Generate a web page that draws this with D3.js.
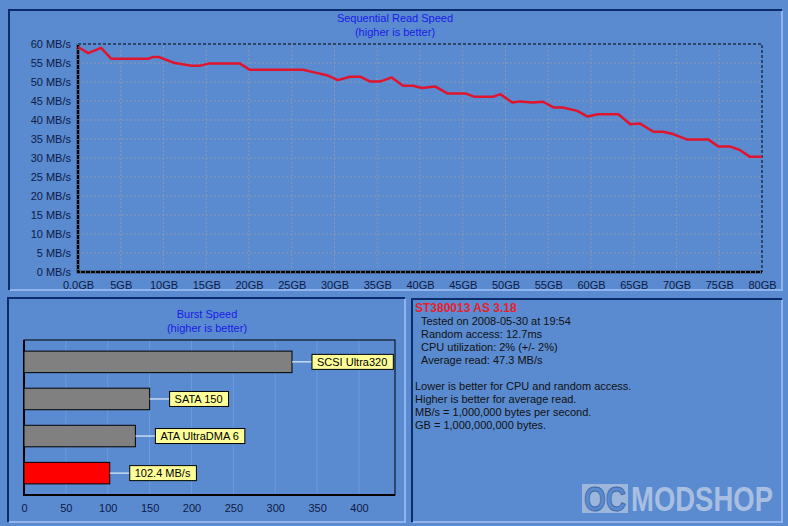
<!DOCTYPE html>
<html>
<head>
<meta charset="utf-8">
<script src="https://cdn.jsdelivr.net/npm/d3@7"></script>
<style>
  body { margin: 0; background: #5a8bd0; }
  svg { display: block; }
  text { font-family: "Liberation Sans", Arial, sans-serif; }
</style>
</head>
<body>
<svg id="chart" width="788" height="526"></svg>
<script>
// Sequential read: position (GB) and speed (MB/s)
var readGB    = [0, 1.2, 2.7, 3.9, 8.2, 8.8, 9.4, 11.3, 13.3, 14.3, 15.4, 18.9, 20.1, 26.3, 27.5, 29.1, 30.4, 31.8, 33.0, 34.2, 35.3, 36.7, 38.0, 39.2, 40.2, 41.8, 43.2, 45.3, 46.4, 48.5, 49.4, 50.8, 51.7, 53.2, 54.4, 55.6, 56.7, 58.4, 59.6, 60.8, 63.2, 64.6, 65.7, 67.3, 68.4, 69.6, 71.2, 73.7, 74.9, 76.3, 77.4, 78.6, 80];
var readSpeed = [59.2, 57.6, 59.0, 56.1, 56.1, 56.6, 56.6, 55.0, 54.3, 54.3, 54.9, 54.9, 53.2, 53.2, 52.6, 51.8, 50.5, 51.4, 51.4, 50.1, 50.1, 51.2, 49.0, 49.0, 48.4, 48.8, 47.0, 47.0, 46.1, 46.1, 46.8, 44.6, 44.9, 44.6, 44.8, 43.3, 43.3, 42.4, 40.9, 41.5, 41.5, 38.9, 39.1, 36.9, 36.9, 36.3, 34.9, 34.9, 33.0, 33.0, 32.1, 30.3, 30.3];
var readYTicks = [0, 5, 10, 15, 20, 25, 30, 35, 40, 45, 50, 55, 60];
var readXTicks = [0, 5, 10, 15, 20, 25, 30, 35, 40, 45, 50, 55, 60, 65, 70, 75, 80];

// Burst speed bars
var burstNames  = ["SCSI Ultra320", "SATA 150", "ATA UltraDMA 6", "102.4 MB/s"];
var burstValues = [320, 150, 133, 102.4];
var burstColors = ["#808080", "#808080", "#808080", "#ff0000"];
var burstTicks  = [0, 50, 100, 150, 200, 250, 300, 350, 400];

// Info panel lines
var infoTitle = "ST380013 AS 3.18";
var infoLines = ["Tested on 2008-05-30 at 19:54", "Random access: 12.7ms", "CPU utilization: 2% (+/- 2%)", "Average read: 47.3 MB/s"];
var noteLines = ["Lower is better for CPU and random access.", "Higher is better for average read.", "MB/s = 1,000,000 bytes per second.", "GB = 1,000,000,000 bytes."];

var svg = d3.select("#chart");
var axisColor = "#0e1a46";
var titleColor = "#1a1ae6";
var font = "Liberation Sans, Arial, sans-serif";

//Draw a sunken panel frame
function drawPanel(x0, y0, x1, y1) {
    svg.append("path").attr("d", "M" + x0 + "," + y1 + "V" + y0 + "H" + x1)
        .attr("fill", "none").attr("stroke", "#0d2c6c").attr("stroke-width", 2);
    svg.append("path").attr("d", "M" + (x0 + 1) + "," + y1 + "H" + x1 + "V" + (y0 + 1))
        .attr("fill", "none").attr("stroke", "#8fb3ec").attr("stroke-width", 2);
}

drawPanel(9, 10, 782, 290);
drawPanel(8, 298, 405, 522);
drawPanel(412, 299, 782, 522);

//---------------- Sequential read chart
var x = d3.scaleLinear().domain([0, 80]).range([78, 762]);
var y = d3.scaleLinear().domain([0, 60]).range([272, 44]);

var seq = svg.append("g");

seq.append("text").attr("x", 395).attr("y", 22).attr("text-anchor", "middle")
    .attr("fill", titleColor).style("font-size", "11px").text("Sequential Read Speed");
seq.append("text").attr("x", 395).attr("y", 36).attr("text-anchor", "middle")
    .attr("fill", titleColor).style("font-size", "11px").text("(higher is better)");

seq.selectAll("line.gy").data(readYTicks.slice(1, -1)).enter().append("line")
    .attr("x1", x(0)).attr("x2", x(80)).attr("y1", function(d) { return y(d); }).attr("y2", function(d) { return y(d); })
    .attr("stroke", "#8a98b0").attr("stroke-dasharray", "2,2");
seq.selectAll("line.gx").data(readXTicks.slice(1, -1)).enter().append("line")
    .attr("y1", y(0)).attr("y2", y(60)).attr("x1", function(d) { return x(d); }).attr("x2", function(d) { return x(d); })
    .attr("stroke", "#8a98b0").attr("stroke-dasharray", "2,2");

// frame: dashed top/right, heavy left/bottom
seq.append("path").attr("d", "M" + x(0) + "," + y(60) + "H" + x(80) + "V" + y(0))
    .attr("fill", "none").attr("stroke", "#000").attr("stroke-dasharray", "3,2");
seq.append("path").attr("d", "M" + x(0) + "," + y(60) + "V" + y(0) + "H" + x(80))
    .attr("fill", "none").attr("stroke", "#000").attr("stroke-width", 2.5);
seq.append("path").attr("d", "M" + x(0) + "," + y(60) + "V" + y(0) + "H" + x(80))
    .attr("fill", "none").attr("stroke", "#c8d4e8").attr("stroke-width", 1).attr("stroke-dasharray", "1,4");

var yAxis = d3.axisLeft(y).tickValues(readYTicks).tickSize(0).tickPadding(7)
    .tickFormat(function(d) { return d + " MB/s"; });
var yg = seq.append("g").attr("transform", "translate(" + x(0) + ",0)").call(yAxis);
yg.select(".domain").remove();
yg.selectAll("text").attr("fill", axisColor).style("font-size", "11px").style("font-family", font);

var xAxis = d3.axisBottom(x).tickValues(readXTicks).tickSize(0).tickPadding(9)
    .tickFormat(function(d) { return d === 0 ? "0.0GB" : d + "GB"; });
var xg = seq.append("g").attr("transform", "translate(0," + y(0) + ")").call(xAxis);
xg.select(".domain").remove();
xg.selectAll("text").attr("fill", axisColor).style("font-size", "11px").style("font-family", font);

var line = d3.line().x(function(d, i) { return x(readGB[i]); }).y(function(d) { return y(d); });
seq.append("path").datum(readSpeed).attr("d", line)
    .attr("fill", "none").attr("stroke", "#e0142c").attr("stroke-width", 2.5).attr("stroke-linejoin", "round");

//---------------- Burst speed chart
var bx = d3.scaleLinear().domain([0, 443]).range([24, 395]);
var by = d3.scaleBand().domain(burstNames).range([340, 495]).paddingInner(0.42).paddingOuter(0.3);

var burst = svg.append("g");

burst.append("text").attr("x", 207).attr("y", 318).attr("text-anchor", "middle")
    .attr("fill", titleColor).style("font-size", "11px").text("Burst Speed");
burst.append("text").attr("x", 207).attr("y", 332).attr("text-anchor", "middle")
    .attr("fill", titleColor).style("font-size", "11px").text("(higher is better)");

burst.selectAll("line.bg").data(burstTicks.slice(1)).enter().append("line")
    .attr("x1", function(d) { return bx(d); }).attr("x2", function(d) { return bx(d); })
    .attr("y1", 340).attr("y2", 495).attr("stroke", "#6f9ad8").attr("stroke-width", 1);

burst.append("rect").attr("x", bx(0)).attr("y", 340).attr("width", bx(443) - bx(0)).attr("height", 155)
    .attr("fill", "none").attr("stroke", "#000").attr("stroke-width", 1);
burst.append("path").attr("d", "M" + bx(0) + ",340V495H" + bx(443))
    .attr("fill", "none").attr("stroke", "#000").attr("stroke-width", 2);

burst.selectAll("rect.bar").data(burstValues).enter().append("rect")
    .attr("x", bx(0)).attr("y", function(d, i) { return by(burstNames[i]); })
    .attr("width", function(d) { return bx(d) - bx(0); }).attr("height", by.bandwidth())
    .attr("fill", function(d, i) { return burstColors[i]; }).attr("stroke", "#000").attr("stroke-width", 1);

burstValues.forEach(function(d, i) {
    var cy = by(burstNames[i]) + by.bandwidth() / 2;
    var lx = bx(d) + 20;
    burst.append("line").attr("x1", bx(d)).attr("x2", lx).attr("y1", cy).attr("y2", cy)
        .attr("stroke", "#fff").attr("stroke-width", 1);
    var box = burst.append("rect").attr("x", lx).attr("y", cy - 7.5).attr("height", 15)
        .attr("fill", "#ffff99").attr("stroke", "#000").attr("stroke-width", 1);
    var t = burst.append("text").attr("x", lx + 5).attr("y", cy + 4)
        .attr("fill", "#000").style("font-size", "11px").text(burstNames[i]);
    box.attr("width", t.node().getComputedTextLength() + 11);
});

var bAxis = d3.axisBottom(bx).tickValues(burstTicks).tickSize(0).tickPadding(9);
var bg = burst.append("g").attr("transform", "translate(0,495)").call(bAxis);
bg.select(".domain").remove();
bg.selectAll("text").attr("fill", axisColor).style("font-size", "11px").style("font-family", font);

//---------------- Info panel
var info = svg.append("g");
info.append("text").attr("x", 415).attr("y", 312).attr("fill", "#e8202c")
    .style("font-size", "12px").style("font-weight", "bold").text(infoTitle);
info.selectAll("text.l").data(infoLines).enter().append("text")
    .attr("x", 421).attr("y", function(d, i) { return 325 + i * 13; })
    .attr("fill", "#111").style("font-size", "11px").text(function(d) { return d; });
info.selectAll("text.n").data(noteLines).enter().append("text")
    .attr("x", 415).attr("y", function(d, i) { return 390 + i * 13; })
    .attr("fill", "#111").style("font-size", "11px").text(function(d) { return d; });

// watermark, squeezed horizontally to fit its box
function squeezedText(str, x0, yBase, width, size, fill, stroke) {
    var t = wm.append("text").style("font-size", size + "px").attr("fill", fill).text(str);
    if (stroke) t.attr("stroke", stroke).attr("stroke-width", 1);
    var s = width / t.node().getComputedTextLength();
    t.attr("transform", "translate(" + x0 + "," + yBase + ") scale(" + s + ",1)");
}
var wm = svg.append("g").style("font-family", "DejaVu Sans, sans-serif").style("font-weight", "bold");
wm.append("rect").attr("x", 582).attr("y", 484).attr("width", 46).attr("height", 29).attr("fill", "#9db6dc");
squeezedText("OC", 584, 511, 42, 36, "#5a8bd0", "#3e6aa8");
squeezedText("MODSHOP", 631, 511, 142, 36, "#a9bfe2", null);
</script>
</body>
</html>
